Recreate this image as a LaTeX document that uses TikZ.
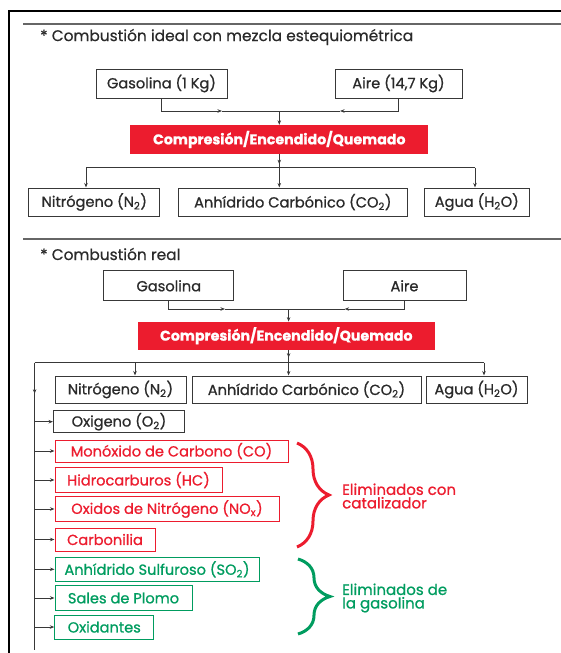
\documentclass[tikz,border=0pt]{standalone}
\usepackage{fontspec}
\setmainfont{Poppins}[FakeBold=0.9]
\newfontfamily\titlefont{Poppins}[FakeBold=0.5]
\usetikzlibrary{arrows.meta,decorations.markings,decorations.pathreplacing}
\definecolor{cred}{HTML}{EC1C2E}
\definecolor{cgreen}{HTML}{009C5F}
\definecolor{cline}{HTML}{383838}
\definecolor{ctext}{HTML}{2A2A2A}
\begin{document}
\begin{tikzpicture}[x=1pt,y=-1pt,
  font=\fontsize{14.6}{15}\selectfont,
  conn/.style={draw=cline,line width=1pt},
  arr/.style={conn,-{Stealth[length=4.5pt,width=3.5pt]}},
  midarr/.style={conn,postaction={decorate},decoration={markings,mark=at position #1 with {\arrow{Stealth[length=4.5pt,width=3.5pt]}}}},
  bbox/.style={draw=cline,line width=1pt,text=ctext,inner sep=0pt,minimum width=#1},
  rbox/.style={draw=cred,line width=1pt,text=cred,inner sep=0pt,minimum width=#1,minimum height=23pt},
  gbox/.style={draw=cgreen,line width=1pt,text=cgreen,inner sep=0pt,minimum width=#1,minimum height=24pt},
  redfill/.style={fill=cred,text=white,inner sep=0pt,minimum width=298pt,font=\fontsize{14.2}{15}\selectfont\bfseries},
  title/.style={anchor=west,text=ctext,inner sep=0pt,font=\fontsize{15.4}{16}\selectfont\titlefont},
  brace/.style={decorate,decoration={brace,amplitude=#1},line width=3pt},
  elim/.style={anchor=west,align=left,inner sep=0pt,font=\fontsize{15}{13.5}\selectfont},
]
\useasboundingbox (0,0) rectangle (561,653);
% frame
\draw[line width=2pt,black] (9,653) -- (9,11) -- (561,11);
\draw[line width=1.2pt,gray!80!black] (23,24) -- (561,24);
\draw[line width=1.2pt,gray!80!black] (23,239) -- (561,239);

% ---------- section 1
\node[title] (t1) at (40,37) {* Combustión ideal con mezcla estequiométrica};
\node[bbox=131pt,minimum height=29pt] (gas1) at (161.5,83.5) {Gasolina (1 Kg)};
\node[bbox=127pt,minimum height=29pt] (aire1) at (398.5,83.5) {Aire (14,7 Kg)};
\node[redfill,minimum height=29pt] (red1) at (279.3,139.5) {Compresión/Encendido/Quemado};
\node[bbox=131pt,minimum height=28pt] (n1) at (94.3,202) {Nitrógeno (N\textsubscript{2})};
\node[bbox=229pt,minimum height=28pt] (c1) at (292.8,202) {Anhídrido Carbónico (CO\textsubscript{2})};
\node[bbox=105pt,minimum height=28pt] (w1) at (476.8,202) {Agua (H\textsubscript{2}O)};

\coordinate (j1) at (279.3,111);
\coordinate (j1l) at (222,111);
\coordinate (j1r) at (340,111);
\draw[arr] (gas1.south) |- (j1l);
\draw[conn] (j1l) -- (j1);
\draw[arr] (aire1.south) |- (j1r);
\draw[conn] (j1r) -- (j1);
\draw[arr] (j1) -- (red1.north);
\coordinate (s1) at (279.3,167.5);
\coordinate (s1l) at (86,167.5);
\coordinate (s1r) at (475,167.5);
\draw[midarr=0.75] (red1.south) -- (s1);
\draw[conn] (s1l) -- (s1r);
\draw[arr] (s1l) -- (s1l |- n1.north);
\draw[arr] (s1) -- (s1 |- c1.north);
\draw[arr] (s1r) -- (s1r |- w1.north);

% ---------- section 2
\node[title] (t2) at (40,254) {* Combustión real};
\node[bbox=130pt,minimum height=30pt] (gas2) at (168.8,285.8) {Gasolina};
\node[bbox=123pt,minimum height=30pt] (aire2) at (404.5,285.8) {Aire};
\node[redfill,minimum height=28pt,minimum width=297pt] (red2) at (286.3,335.8) {Compresión/Encendido/Quemado};
\node[bbox=131pt,minimum height=27pt] (n2) at (120.5,389.5) {Nitrógeno (N\textsubscript{2})};
\node[bbox=229pt,minimum height=27pt] (c2) at (306.5,389.5) {Anhídrido Carbónico (CO\textsubscript{2})};
\node[bbox=101pt,minimum height=27pt] (w2) at (476.5,389.5) {Agua (H\textsubscript{2}O)};

\coordinate (j2) at (288.6,309);
\coordinate (j2l) at (225,309);
\coordinate (j2r) at (344.6,309);
\draw[arr] (gas2.south) |- (j2l);
\draw[conn] (j2l) -- (j2);
\draw[arr] (aire2.south) |- (j2r);
\draw[conn] (j2r) -- (j2);
\draw[arr] (j2) -- (j2 |- red2.north);
\coordinate (s2) at (288.6,362.7);
\coordinate (s2l) at (34.6,362.7);
\coordinate (s2n) at (135,362.7);
\coordinate (s2r) at (484,362.7);
\coordinate (s2end) at (34.6,650);
\draw[midarr=0.6] (s2 |- red2.south) -- (s2);
\draw[conn] (s2l) -- (s2r);
\draw[arr] (s2n) -- (s2n |- n2.north);
\draw[arr] (s2) -- (s2 |- c2.north);
\draw[arr] (s2r) -- (s2r |- w2.north);
\draw[midarr=0.108] (s2l) -- (s2end);

% list
\node[bbox=131pt,minimum height=22pt] (o2) at (119,421.7) {Oxigeno (O\textsubscript{2})};
\node[rbox=233pt,minimum height=22pt] (co) at (171.5,451) {Monóxido de Carbono (CO)};
\node[rbox=167pt,minimum height=25pt] (hc) at (138.5,480) {Hidrocarburos (HC)};
\node[rbox=224pt,minimum height=25pt] (nox) at (167,509) {Oxidos de Nitrógeno (NO\textsubscript{x})};
\node[rbox=100pt,minimum height=23pt] (carb) at (105,539.5) {Carbonilia};
\node[gbox=204pt] (so2) at (157,569.3) {Anhídrido Sulfuroso (SO\textsubscript{2})};
\node[gbox=137pt,minimum height=25pt] (pb) at (123.5,598) {Sales de Plomo};
\node[gbox=99pt] (ox) at (104.3,627) {Oxidantes};

\foreach \n in {o2,co,hc,nox,carb,so2,pb,ox}{
  \draw[arr] (s2l |- \n.west) -- (\n.west);
}

% braces
\draw[brace=32pt,cred] (297,443) -- (297,547);
\node[elim,text=cred] (e1) at (342,496) {Eliminados con\\catalizador};
\draw[brace=32pt,cgreen] (298,559) -- (298,634);
\node[elim,text=cgreen] (e2) at (342,598) {Eliminados de\\la gasolina};
\end{tikzpicture}
\end{document}
